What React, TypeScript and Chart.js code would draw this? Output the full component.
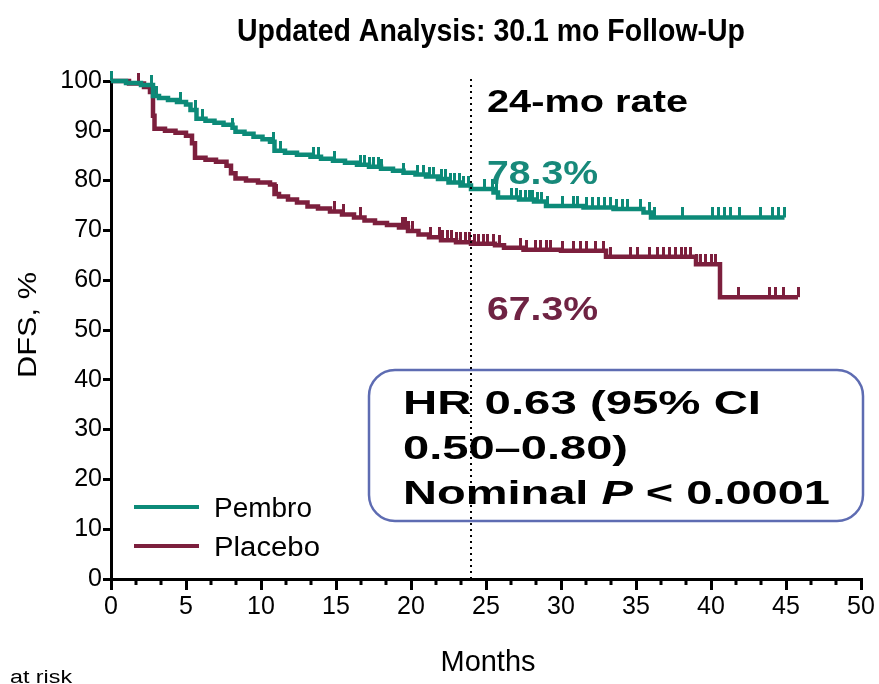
import { useEffect, useRef } from "react";
import { Chart, registerables } from "chart.js";

Chart.register(...registerables);

// Kaplan–Meier step estimates: time (months) of each event and DFS (%) after it
const pembroTimes = [0, 1.0, 2.0, 2.8, 3.2, 3.8, 4.4, 5.0, 5.3, 5.7, 6.3, 6.9, 7.5, 8.1, 8.3, 8.9, 9.5, 10.1, 10.6, 10.9, 11.6, 12.4, 13.3, 14.0, 14.8, 15.6, 16.4, 17.2, 18.0, 18.8, 19.5, 20.3, 21.0, 21.8, 22.5, 23.3, 24.0, 25.5, 25.8, 27.2, 28.2, 29.0, 31.5, 33.5, 35.5, 36.0, 44.9];
const pembroSurv = [100, 99.6, 99.2, 97.0, 96.6, 96.2, 95.8, 95.3, 94.2, 92.4, 92.0, 91.6, 91.2, 90.6, 89.8, 89.4, 88.8, 88.3, 87.8, 86.0, 85.6, 85.2, 84.8, 84.4, 84.0, 83.6, 83.2, 82.8, 82.4, 82.0, 81.6, 81.2, 80.8, 80.3, 79.6, 79.0, 78.3, 77.6, 76.6, 76.2, 75.8, 74.9, 74.6, 74.3, 73.6, 72.6, 72.6];

const placeboTimes = [0, 1.2, 2.2, 2.6, 2.8, 2.9, 3.6, 4.3, 5.0, 5.4, 5.6, 6.3, 7.0, 7.7, 8.0, 8.3, 9.0, 9.8, 10.6, 10.9, 11.2, 11.8, 12.4, 13.1, 13.8, 14.6, 15.4, 16.2, 16.9, 17.6, 18.4, 19.2, 19.8, 20.5, 21.2, 22.0, 23.0, 24.0, 25.6, 26.2, 27.5, 30.0, 33.0, 39.0, 40.6, 45.8];
const placeboSurv = [100, 99.5, 98.8, 97.8, 93.0, 90.4, 90.0, 89.6, 89.0, 87.5, 84.6, 84.2, 83.8, 83.0, 81.5, 80.4, 80.0, 79.6, 79.2, 77.3, 76.8, 76.2, 75.6, 74.8, 74.4, 73.8, 73.2, 72.6, 72.0, 71.5, 71.1, 70.6, 69.9, 69.2, 68.6, 68.0, 67.6, 67.3, 67.0, 66.5, 66.1, 65.9, 64.7, 63.2, 56.6, 56.6];

// Censoring times (months)
const pembroCensor = [0, 2.7, 3.0, 4.6, 5.6, 6.1, 8.1, 10.8, 11.3, 13.5, 13.8, 14.9, 16.6, 16.9, 17.2, 17.5, 17.8, 18.0, 19.5, 20.4, 20.8, 21.2, 21.5, 22.0, 22.3, 22.6, 22.9, 23.2, 23.5, 23.8, 24.9, 25.4, 25.7, 26.7, 27.0, 27.3, 27.6, 27.9, 28.1, 28.4, 28.7, 29.1, 30.1, 30.8, 31.1, 31.7, 32.1, 32.5, 32.9, 33.3, 33.7, 34.1, 34.4, 35.3, 35.9, 36.2, 38.1, 40.1, 40.5, 40.9, 41.3, 41.9, 43.3, 44.1, 44.5, 44.9];
const placeboCensor = [1.8, 11.0, 14.9, 15.5, 16.6, 19.4, 19.6, 19.8, 20.1, 21.3, 21.9, 22.1, 22.4, 22.7, 23.0, 23.3, 23.6, 23.9, 24.2, 24.5, 24.8, 25.1, 25.5, 25.9, 27.3, 27.7, 28.3, 28.6, 29.0, 29.3, 30.1, 30.8, 31.3, 31.7, 32.3, 32.8, 33.3, 34.6, 35.1, 35.9, 36.4, 36.8, 37.2, 37.6, 38.0, 38.3, 38.6, 39.0, 39.3, 39.6, 40.0, 40.3, 41.8, 43.9, 44.3, 44.8, 45.8];

const seriesNames = ["Pembro", "Placebo"];
const seriesColors = ["#0c8a78", "#7c1f3d"];

const xTickValues = [0, 5, 10, 15, 20, 25, 30, 35, 40, 45, 50];
const yTickValues = [0, 10, 20, 30, 40, 50, 60, 70, 80, 90, 100];

const landmarkMonth = 24;
const rateLabels = ["78.3%", "67.3%"];
const titleText = "Updated Analysis: 30.1 mo Follow-Up";

const FONT = "'Liberation Sans', Arial, Helvetica, sans-serif";

function stepValue(times: number[], surv: number[], t: number) {
  let v = surv[0];
  for (let i = 0; i < times.length; i++) {
    if (times[i] <= t) v = surv[i];
    else break;
  }
  return v;
}

// Upward censor mark: the image is centred on the point, so only its top half is painted
function tickImage(color: string) {
  const c = document.createElement("canvas");
  c.width = 3;
  c.height = 20;
  const g = c.getContext("2d")!;
  g.fillStyle = color;
  g.fillRect(0, 0, 3, 10);
  return c;
}

type Seg = { text: string; font: string };

// Draws a run of text segments squeezed/stretched to a given width
function fitRun(ctx: CanvasRenderingContext2D, segs: Seg[], x: number, y: number, width: number, color: string, align: "left" | "center" = "left") {
  ctx.save();
  let total = 0;
  const widths = segs.map((s) => {
    ctx.font = s.font;
    const w = ctx.measureText(s.text).width;
    total += w;
    return w;
  });
  const k = width / total;
  const startX = align === "center" ? x - width / 2 : x;
  ctx.translate(startX, y);
  ctx.scale(k, 1);
  ctx.fillStyle = color;
  ctx.textAlign = "left";
  ctx.textBaseline = "alphabetic";
  let cx = 0;
  segs.forEach((s, i) => {
    ctx.font = s.font;
    ctx.fillText(s.text, cx, 0);
    cx += widths[i];
  });
  ctx.restore();
}

const decorPlugin = {
  id: "decor",
  afterDraw(chart: any) {
    const ctx: CanvasRenderingContext2D = chart.ctx;
    const xs = chart.scales.x;
    const ys = chart.scales.y;
    const area = chart.chartArea;

    // minor ticks on the months axis
    ctx.save();
    ctx.strokeStyle = "#000";
    ctx.lineWidth = 3;
    for (let k = 0; k <= 30; k++) {
      if (k % 3 === 0) continue;
      const px = Math.round(xs.getPixelForValue((k * 5) / 3));
      ctx.beginPath();
      ctx.moveTo(px, area.bottom);
      ctx.lineTo(px, area.bottom + 6);
      ctx.stroke();
    }
    ctx.restore();

    // title
    fitRun(ctx, [{ text: titleText, font: `bold 31px ${FONT}` }], 491, 41, 508, "#000", "center");

    // axis titles
    ctx.save();
    ctx.translate(36, 325);
    ctx.rotate(-Math.PI / 2);
    fitRun(ctx, [{ text: "DFS, %", font: `26px ${FONT}` }], 0, 0, 106, "#000", "center");
    ctx.restore();
    fitRun(ctx, [{ text: "Months", font: `30px ${FONT}` }], 488, 671, 95, "#000", "center");
    fitRun(ctx, [{ text: "at risk", font: `18px ${FONT}` }], 10, 683, 62, "#000");

    // landmark rates
    const lx = xs.getPixelForValue(landmarkMonth);
    fitRun(ctx, [{ text: "24-mo rate", font: `bold 32px ${FONT}` }], 487, 112, 201, "#000");
    fitRun(ctx, [{ text: rateLabels[0], font: `bold 33px ${FONT}` }], 487, 184, 111, "#17897a");
    fitRun(ctx, [{ text: rateLabels[1], font: `bold 33px ${FONT}` }], 487, 320, 111, "#6f2343");

    // hazard ratio box
    ctx.save();
    ctx.strokeStyle = "#5e6cb2";
    ctx.lineWidth = 2.5;
    ctx.beginPath();
    (ctx as any).roundRect(369, 370, 494, 151, 26);
    ctx.stroke();
    ctx.restore();
    const bf = `bold 34px ${FONT}`;
    fitRun(ctx, [{ text: "HR 0.63 (95% CI", font: bf }], 403, 414, 358, "#000");
    fitRun(ctx, [{ text: "0.50\u20130.80)", font: bf }], 403, 459, 225, "#000");
    fitRun(
      ctx,
      [
        { text: "Nominal ", font: bf },
        { text: "P", font: `italic bold 34px ${FONT}` },
        { text: " < 0.0001", font: bf },
      ],
      403,
      504,
      427,
      "#000"
    );

    // legend
    const legendY = [507, 546];
    seriesNames.forEach((name, i) => {
      ctx.save();
      ctx.strokeStyle = seriesColors[i];
      ctx.lineWidth = 4;
      ctx.beginPath();
      ctx.moveTo(134, legendY[i]);
      ctx.lineTo(199, legendY[i]);
      ctx.stroke();
      ctx.restore();
      fitRun(ctx, [{ text: name, font: `27px ${FONT}` }], 214, legendY[i] + 10, i === 0 ? 98 : 106, "#000");
    });

    // dotted landmark line
    ctx.save();
    ctx.strokeStyle = "#000";
    ctx.lineWidth = 2;
    ctx.setLineDash([2, 4]);
    ctx.beginPath();
    ctx.moveTo(lx, ys.getPixelForValue(100) - 2);
    ctx.lineTo(lx, area.bottom);
    ctx.stroke();
    ctx.restore();
  },
};

export default function App() {
  const canvasRef = useRef<HTMLCanvasElement | null>(null);

  useEffect(() => {
    const canvas = canvasRef.current;
    if (!canvas) return;

    const curve = (times: number[], surv: number[]) => times.map((t, i) => ({ x: t, y: surv[i] }));
    const censor = (cs: number[], times: number[], surv: number[]) => cs.map((t) => ({ x: t, y: stepValue(times, surv, t) }));

    const chart = new Chart(canvas, {
      type: "line",
      data: {
        datasets: [
          {
            label: seriesNames[0],
            data: curve(pembroTimes, pembroSurv),
            borderColor: seriesColors[0],
            borderWidth: 4.5,
            stepped: "before",
            pointRadius: 0,
            fill: false,
            clip: false as any,
          },
          {
            label: seriesNames[1],
            data: curve(placeboTimes, placeboSurv),
            borderColor: seriesColors[1],
            borderWidth: 4.5,
            stepped: "before",
            pointRadius: 0,
            fill: false,
            clip: false as any,
          },
          {
            label: seriesNames[0] + " censored",
            data: censor(pembroCensor, pembroTimes, pembroSurv),
            showLine: false,
            pointStyle: tickImage(seriesColors[0]) as any,
            pointRadius: 5,
            clip: false as any,
          },
          {
            label: seriesNames[1] + " censored",
            data: censor(placeboCensor, placeboTimes, placeboSurv),
            showLine: false,
            pointStyle: tickImage(seriesColors[1]) as any,
            pointRadius: 5,
            clip: false as any,
          },
        ],
      },
      options: {
        responsive: false,
        animation: false,
        events: [],
        layout: { padding: { left: 0, top: 81, right: 18, bottom: 0 } },
        plugins: { legend: { display: false }, tooltip: { enabled: false }, title: { display: false } },
        scales: {
          x: {
            type: "linear",
            min: 0,
            max: 50,
            afterBuildTicks: (s: any) => {
              s.ticks = xTickValues.map((v) => ({ value: v }));
            },
            afterFit: (s: any) => {
              s.height = 105;
            },
            border: { display: true, color: "#000", width: 3 },
            grid: { drawOnChartArea: false, drawTicks: true, tickLength: 11, color: "#000", lineWidth: 3 },
            ticks: { color: "#000", font: { family: FONT, size: 25 }, padding: 2, maxRotation: 0, autoSkip: false },
          },
          y: {
            type: "linear",
            min: 0,
            max: 100,
            afterBuildTicks: (s: any) => {
              s.ticks = yTickValues.map((v) => ({ value: v }));
            },
            afterFit: (s: any) => {
              s.width = 111;
            },
            border: { display: true, color: "#000", width: 3 },
            grid: { drawOnChartArea: false, drawTicks: true, tickLength: 8, color: "#000", lineWidth: 3 },
            ticks: { color: "#000", font: { family: FONT, size: 25 }, padding: 1, autoSkip: false },
          },
        },
      },
      plugins: [decorPlugin],
    });

    return () => chart.destroy();
  }, []);

  return (
    <div style={{ position: "absolute", left: 0, top: 0, width: 879, height: 684, background: "#fff" }}>
      <canvas ref={canvasRef} width={879} height={684} style={{ display: "block" }} />
    </div>
  );
}
